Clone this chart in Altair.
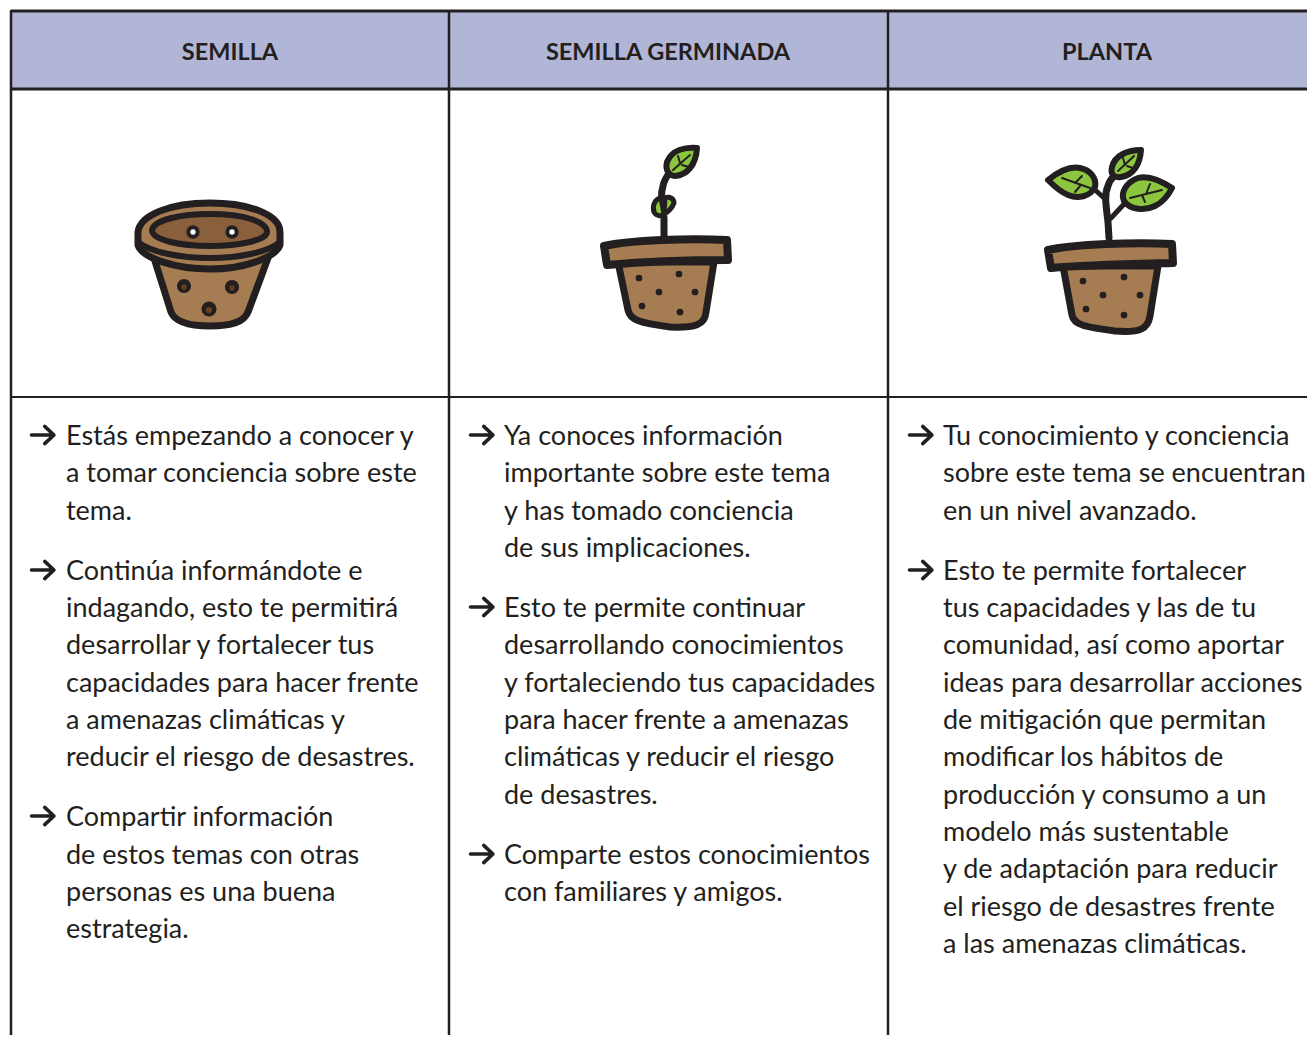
import altair as alt
import pandas as pd

INK = "#231f20"
HEAD = "#b2b6d6"
CLAY = "#a67c52"
CLAY_DARK = "#8a5f3c"
GREEN = "#8cc63f"
FONT = "Lato"

head_labels = ["SEMILLA", "SEMILLA GERMINADA", "PLANTA"]
head_x = [230, 668, 1107]
col_left = [11, 449, 888]

col1_lines = ["Estás empezando a conocer y", "a tomar conciencia sobre este", "tema.",
              "Continúa informándote e", "indagando, esto te permitirá", "desarrollar y fortalecer tus",
              "capacidades para hacer frente", "a amenazas climáticas y", "reducir el riesgo de desastres.",
              "Compartir información", "de estos temas con otras", "personas es una buena", "estrategia."]
col1_y = [435, 472, 510, 570, 607, 644, 682, 719, 756, 816, 854, 891, 928]

col2_lines = ["Ya conoces información", "importante sobre este tema", "y has tomado conciencia", "de sus implicaciones.",
              "Esto te permite continuar", "desarrollando conocimientos", "y fortaleciendo tus capacidades",
              "para hacer frente a amenazas", "climáticas y reducir el riesgo", "de desastres.",
              "Comparte estos conocimientos", "con familiares y amigos."]
col2_y = [435, 472, 510, 547, 607, 644, 682, 719, 756, 794, 854, 891]

col3_lines = ["Tu conocimiento y conciencia", "sobre este tema se encuentran", "en un nivel avanzado.",
              "Esto te permite fortalecer", "tus capacidades y las de tu", "comunidad, así como aportar",
              "ideas para desarrollar acciones", "de mitigación que permitan", "modificar los hábitos de",
              "producción y consumo a un", "modelo más sustentable", "y de adaptación para reducir",
              "el riesgo de desastres frente", "a las amenazas climáticas."]
col3_y = [435, 472, 510, 570, 607, 644, 682, 719, 756, 794, 831, 868, 906, 943]

text_x = [66, 504, 943]
arrow_x = [43] * 3 + [482] * 3 + [921] * 2
arrow_y = [435, 570, 816, 435, 607, 854, 435, 570]
ARROW = "M-1,0 L0.9,0 M0.15,-0.75 L0.95,0 L0.15,0.75"

parts = [
    # pot 1
    ("M154,258 L171,312 C175,322 190,326 210,326 C232,326 244,322 248,312 L268,258 Z", CLAY, INK, 7),
    ("M138,232 C140,215 170,203 210,203 C250,203 280,215 280,232 L280,245 C276,257 245,269 210,269 C175,269 142,258 138,245 Z", CLAY, INK, 7),
    ("M138,242 C150,252 180,258 210,258 C240,258 268,252 280,242", "none", INK, 6),
    ("M152,230 C154,220 180,214 210,214 C245,214 267,222 267,232 C267,240 240,246 210,246 C180,246 152,240 152,230 Z", CLAY_DARK, INK, 6),
    # pot 2
    ("M664,238 L664,218 C662,205 660,195 663,186 C664,180 667,176 670,172", "none", INK, 7),
    ("M697,148 C685,147 672,150 667,162 C665,170 669,176 675,176 C687,175 696,165 697,148 Z", GREEN, INK, 6),
    ("M673,170 L690,155 M680,163 L678,156 M682,165 L689,167", "none", INK, 2),
    ("M661,198 C655,199 652,205 654,212 C656,216 661,217 664,214 Z", GREEN, INK, 5),
    ("M665,198 C670,196 674,199 674,203 C672,208 668,212 664,214 Z", GREEN, INK, 5),
    ("M618,262 L628,310 C630,320 640,323 670,327 C695,328 705,325 706,312 L714,262 Z", CLAY, INK, 7),
    ("M604,246 C630,240 690,238 727,240 L728,260 C690,260 640,262 607,265 Z", CLAY, INK, 8),
    # pot 3
    ("M1109,238 L1108,222 C1106,205 1104,195 1108,186 C1109,182 1111,179 1114,176", "none", INK, 7),
    ("M1104,198 L1093,188 M1111,218 L1126,202", "none", INK, 5),
    ("M1141,150 C1128,150 1115,155 1112,167 C1110,175 1115,178 1121,177 C1133,175 1140,165 1141,150 Z", GREEN, INK, 6),
    ("M1048,180 C1058,172 1070,166 1080,168 C1090,170 1097,178 1095,187 C1090,197 1078,199 1068,195 C1060,192 1054,186 1048,180 Z", GREEN, INK, 6),
    ("M1172,188 C1160,180 1148,175 1138,178 C1127,182 1120,192 1124,201 C1130,210 1145,211 1155,206 C1163,202 1168,196 1172,188 Z", GREEN, INK, 6),
    ("M1118,171 L1134,156 M1125,165 L1123,158 M1127,166 L1133,168", "none", INK, 2),
    ("M1062,178 L1090,188 M1075,183 L1082,176 M1080,186 L1075,192", "none", INK, 2),
    ("M1130,198 L1162,190 M1146,194 L1150,184 M1142,195 L1145,202", "none", INK, 2),
    ("M1063,266 L1072,315 C1074,325 1085,327 1115,331 C1140,333 1148,329 1150,316 L1158,266 Z", CLAY, INK, 7),
    ("M1048,250 C1075,244 1135,242 1172,244 L1173,263 C1135,264 1085,265 1051,268 Z", CLAY, INK, 8),
]

dots_x = [193, 232, 193, 232, 184, 232, 209, 184, 232, 209,
          639, 679, 659, 695, 642, 680, 1083, 1124, 1103, 1140, 1086, 1124]
dots_y = [232, 232, 232, 232, 286, 287, 309, 287, 288, 310,
          278, 274, 292, 292, 306, 312, 281, 277, 295, 295, 309, 315]
dots_r = [7.5, 7.5, 3, 3, 8, 8, 8.5, 3, 3, 3.5,
          3.8, 3.8, 3.8, 3.8, 3.8, 3.8, 3.8, 3.8, 3.8, 3.8, 3.8, 3.8]
dots_c = [INK, INK, "#ffffff", "#ffffff", INK, INK, INK, "#6b3e1e", "#6b3e1e", "#6b3e1e"] + [INK] * 12

X = alt.Scale(domain=[8, 1307], range=[0, 1299])
Y = alt.Scale(domain=[8, 1035], range=[0, 1027])
xq = lambda f: alt.X(f, type="quantitative", scale=X, axis=None)
yq = lambda f: alt.Y(f, type="quantitative", scale=Y, axis=None)

frames = []
for left, lines, ys in zip(text_x, [col1_lines, col2_lines, col3_lines], [col1_y, col2_y, col3_y]):
    frames.append(pd.DataFrame({"x": left, "y": ys, "t": lines}))
text_df = pd.concat(frames, ignore_index=True)

head_df = pd.DataFrame({"x": head_x, "y": [52] * 3, "t": head_labels})
parts_df = pd.DataFrame(parts, columns=["p", "f", "s", "w"]).assign(x=0, y=0)
dots_df = pd.DataFrame({"x": dots_x, "y": dots_y, "a": [3.14159 * r * r for r in dots_r], "c": dots_c})
arrow_df = pd.DataFrame({"x": arrow_x, "y": arrow_y})

band = alt.Chart(pd.DataFrame({"x": [11], "x2": [1315], "y": [11], "y2": [89]})).mark_rect(color=HEAD).encode(
    x=xq("x"), x2="x2", y=yq("y"), y2="y2")
hrules = alt.Chart(pd.DataFrame({"x": [11] * 3, "x2": [1315] * 3, "y": [11, 89, 397], "w": [3, 3, 2]})).mark_rule(color=INK).encode(
    x=xq("x"), x2="x2", y=yq("y"), strokeWidth=alt.StrokeWidth("w:Q", scale=None))
vrules = alt.Chart(pd.DataFrame({"x": col_left, "y": [10] * 3, "y2": [1043] * 3})).mark_rule(color=INK, strokeWidth=2.5).encode(
    x=xq("x"), y=yq("y"), y2="y2")
heads = alt.Chart(head_df).mark_text(font=FONT, fontSize=23.5, fontWeight="bold", color=INK, align="center", baseline="middle", dy=1).encode(
    x=xq("x"), y=yq("y"), text="t:N")
body = alt.Chart(text_df).mark_text(font=FONT, fontSize=27, color=INK, align="left", baseline="middle", dy=2).encode(
    x=xq("x"), y=yq("y"), text="t:N")
arrows = alt.Chart(arrow_df).mark_point(shape=ARROW, size=529, filled=False, color=INK, strokeWidth=3.6, opacity=1,
                                        strokeCap="round", strokeJoin="round").encode(x=xq("x"), y=yq("y"))
art = alt.Chart(parts_df).mark_point(size=4, filled=True, opacity=1, strokeCap="round", strokeJoin="round").encode(
    x=xq("x"), y=yq("y"),
    shape=alt.Shape("p:N", scale=None),
    fill=alt.Fill("f:N", scale=None),
    stroke=alt.Stroke("s:N", scale=None),
    strokeWidth=alt.StrokeWidth("w:Q", scale=None),
)
dots = alt.Chart(dots_df).mark_point(shape="circle", filled=True, opacity=1).encode(
    x=xq("x"), y=yq("y"),
    size=alt.Size("a:Q", scale=None),
    fill=alt.Fill("c:N", scale=None),
)

chart = alt.layer(band, hrules, vrules, heads, art, dots, arrows, body).properties(
    width=1299, height=1027, padding=0, background="white",
    autosize=alt.AutoSizeParams(type="none"),
).configure_view(stroke=None)

chart.save("out.html", embed_options={"renderer": "svg", "actions": False})
